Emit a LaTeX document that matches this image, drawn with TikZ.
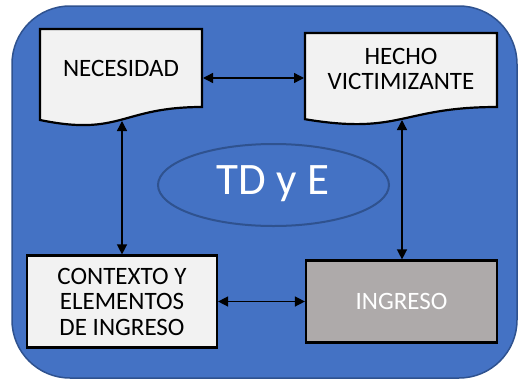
\documentclass[tikz,border=0pt]{standalone}
\usepackage{fontspec}
\setmainfont{Carlito}
\usetikzlibrary{arrows.meta}
\definecolor{bgblue}{HTML}{4472C4}
\definecolor{edgeblue}{HTML}{2F528F}
\definecolor{boxfill}{HTML}{F2F2F2}
\definecolor{greyfill}{HTML}{AEAAAA}
\tikzset{
  docshape/.style={draw=black, line width=2.2pt, fill=boxfill, line join=miter},
  boxtext/.style={align=center, font=\fontsize{25}{25.5}\selectfont, text=black, inner sep=0pt},
  rectbox/.style={draw=black, line width=2.2pt, align=center, font=\fontsize{25}{25.5}\selectfont, inner sep=0pt},
  link/.style={line width=1.4pt, {Triangle[length=10pt,width=10pt]}-{Triangle[length=10pt,width=10pt]}}
}
\begin{document}
\begin{tikzpicture}[x=1pt,y=-1pt]
\useasboundingbox (0,0) rectangle (520,381);
% background
\draw[fill=bgblue, draw=edgeblue, line width=1.5pt, rounded corners=58pt] (12,6) rectangle (517,378);
% ellipse
\draw[fill=bgblue, draw=edgeblue, line width=2pt] (273.5,185) ellipse [x radius=115.5pt, y radius=41pt];
\node[text=white, font=\fontsize{45}{48}\selectfont, inner sep=0pt] (tdye) at (273,184) {TD y E};
% NECESIDAD document
\draw[docshape] (40,29) -- (202,29) -- (202,107) .. controls (121,107) and (121,136.7) .. (40,120) -- cycle;
\node[boxtext] (nec) at (121,68) {NECESIDAD};
% HECHO document
\draw[docshape] (305,33) -- (497,33) -- (497,107) .. controls (401,107) and (401,135.2) .. (305,119.2) -- cycle;
\node[boxtext] (hecho) at (401,69) {HECHO\\VICTIMIZANTE};
% rect boxes
\node[rectbox, fill=boxfill, minimum width=190pt, minimum height=92pt, text=black] (ctx) at (122,301.5) {CONTEXTO Y\\ELEMENTOS\\DE INGRESO};
\node[rectbox, fill=greyfill, minimum width=191pt, minimum height=82pt, text=white] (ing) at (401.5,301.5) {INGRESO};
% connector end points on the document shapes
\coordinate (necE) at (203,78);
\coordinate (hechoW) at (304,78);
\coordinate (necS) at (122,121);
\coordinate (hechoS) at (402,120);
% connectors
\draw[link] (necE) -- (hechoW);
\draw[link] (necS) -- (ctx.north);
\draw[link] (hechoS) -- (hechoS |- ing.north);
\draw[link] (ctx.east) -- (ing.west);
\end{tikzpicture}
\end{document}
